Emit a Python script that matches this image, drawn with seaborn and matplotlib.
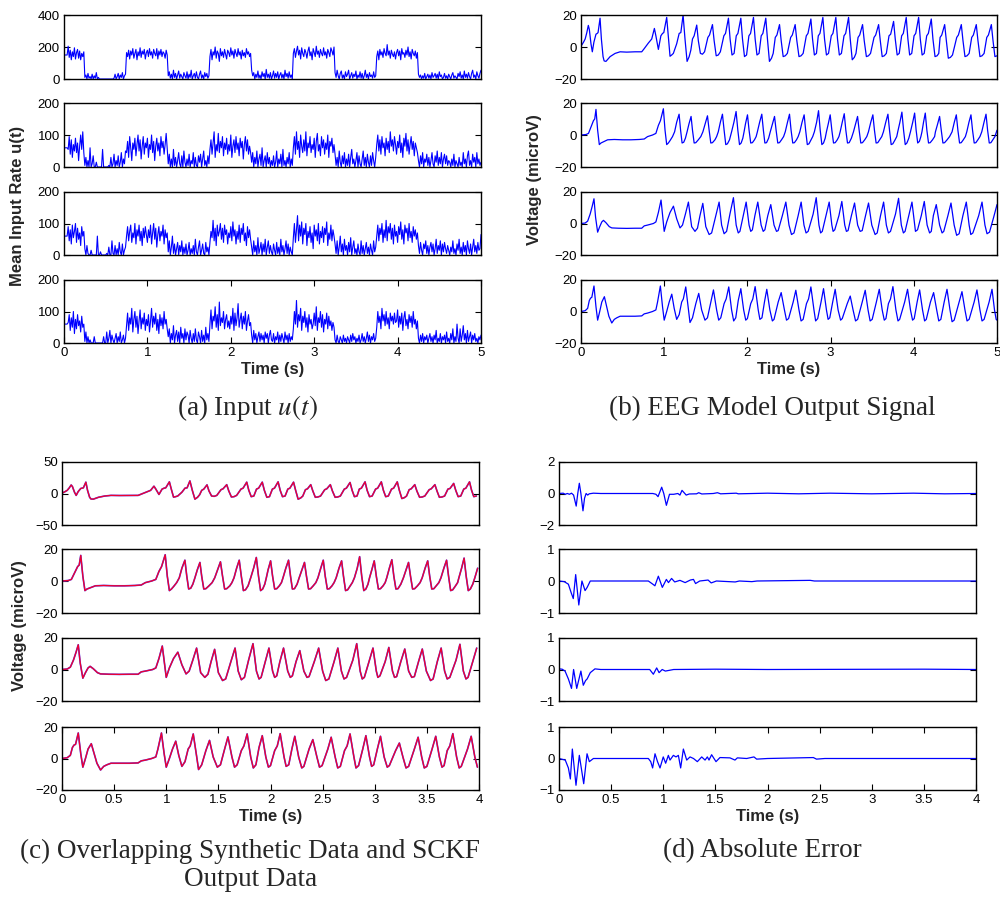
import numpy as np
import matplotlib
matplotlib.use("Agg")
import matplotlib.pyplot as plt
import seaborn as sns

# ---------------- data ----------------
# (a) mean input rate u(t) over 0..5 s, evenly sampled (12.5 ms)
input_rate_1 = [150, 150, 150, 150, 205, 135, 180, 120, 170, 140, 195, 125, 165, 185, 130, 175, 120, 160, 140, 170,
                10, 25, 0, 35, 5, 15, 0, 30, 0, 20, 5, 40, 0, 10, 0, 0, 0, 0, 0, 0,
                0, 0, 0, 0, 0, 0, 0, 0, 5, 30, 0, 15, 35, 0, 25, 10, 40, 0, 20, 30,
                165, 140, 180, 125, 175, 150, 190, 130, 160, 185, 120, 170, 145, 195, 135, 175, 155, 185, 125, 165,
                180, 140, 190, 150, 170, 130, 185, 160, 145, 190, 125, 175, 150, 185, 140, 170, 160, 130, 180, 150,
                20, 45, 5, 30, 0, 55, 10, 35, 0, 25, 50, 5, 30, 15, 0, 40, 20, 5, 45, 0,
                30, 10, 55, 0, 20, 35, 5, 45, 10, 0, 30, 50, 5, 25, 0, 40, 15, 35, 5, 20,
                140, 185, 120, 170, 150, 200, 130, 175, 160, 110, 190, 145, 170, 135, 185, 155, 125, 180, 165, 140,
                195, 150, 175, 130, 185, 160, 140, 190, 150, 170, 125, 180, 145, 165, 135, 190, 155, 170, 140, 160,
                55, 20, 40, 0, 30, 10, 50, 5, 25, 0, 45, 15, 35, 0, 60, 10, 30, 5, 40, 0,
                20, 50, 5, 35, 10, 45, 0, 25, 40, 5, 30, 0, 55, 15, 35, 5, 45, 10, 25, 0,
                160, 190, 135, 175, 205, 150, 180, 125, 195, 160, 140, 185, 165, 130, 175, 200, 145, 170, 120, 190,
                165, 140, 205, 155, 175, 135, 185, 160, 145, 195, 150, 170, 130, 185, 165, 140, 195, 175, 150, 200,
                40, 10, 55, 20, 0, 35, 50, 5, 25, 0, 45, 15, 30, 55, 0, 20, 40, 5, 30, 15,
                50, 0, 25, 10, 45, 5, 35, 0, 20, 55, 10, 30, 0, 40, 15, 25, 5, 45, 10, 20,
                140, 175, 120, 185, 150, 170, 135, 190, 160, 145, 215, 150, 175, 130, 180, 155, 140, 170, 125, 165,
                185, 145, 175, 120, 190, 155, 165, 135, 180, 150, 200, 140, 170, 125, 185, 160, 145, 175, 130, 165,
                30, 10, 25, 0, 20, 5, 35, 0, 15, 30, 5, 25, 0, 40, 10, 20, 35, 5, 30, 0,
                45, 15, 25, 0, 10, 35, 5, 20, 0, 30, 15, 0, 25, 40, 5, 20, 10, 0, 35, 15,
                45, 5, 25, 0, 50, 10, 30, 5, 40, 15, 0, 35, 55, 10, 25, 0, 45, 20, 5, 35, 55]

input_rate_2 = [60, 60, 60, 60, 55, 95, 40, 85, 30, 70, 50, 90, 45, 75, 20, 65, 100, 55, 110, 45,
                5, 30, 0, 20, 0, 60, 0, 10, 35, 0, 0, 15, 0, 0, 0, 0, 0, 55, 0, 0,
                0, 0, 0, 5, 0, 30, 0, 10, 40, 0, 20, 5, 35, 0, 15, 45, 0, 25, 10, 50,
                45, 80, 30, 95, 60, 20, 75, 55, 90, 35, 70, 100, 50, 85, 25, 65, 95, 40, 75, 60,
                90, 30, 70, 55, 100, 45, 80, 20, 65, 90, 50, 75, 35, 95, 60, 80, 40, 70, 105, 55,
                10, 40, 0, 25, 0, 55, 5, 30, 0, 20, 45, 10, 0, 35, 0, 50, 15, 0, 25, 5,
                40, 0, 20, 10, 45, 0, 30, 5, 0, 35, 15, 40, 0, 25, 50, 5, 20, 0, 35, 10,
                55, 85, 40, 75, 110, 30, 70, 50, 105, 45, 80, 60, 95, 35, 75, 55, 90, 40, 70, 50,
                100, 30, 65, 85, 45, 95, 55, 75, 35, 90, 60, 80, 25, 70, 95, 50, 85, 40, 65, 45,
                15, 45, 0, 30, 10, 50, 0, 25, 40, 5, 60, 0, 20, 35, 0, 45, 10, 30, 0, 20,
                5, 35, 0, 15, 50, 0, 25, 10, 40, 0, 55, 5, 20, 0, 30, 10, 45, 0, 25, 5,
                60, 95, 40, 110, 55, 80, 30, 100, 65, 45, 85, 50, 110, 35, 75, 60, 95, 45, 70, 55,
                90, 30, 80, 105, 50, 70, 35, 95, 60, 85, 40, 75, 55, 100, 30, 80, 65, 90, 45, 70,
                40, 5, 30, 0, 50, 15, 0, 35, 10, 45, 0, 25, 5, 40, 0, 30, 55, 10, 25, 0,
                20, 45, 0, 35, 10, 0, 25, 50, 5, 30, 0, 40, 15, 0, 35, 5, 45, 20, 0, 30,
                70, 100, 50, 85, 40, 95, 60, 75, 35, 90, 55, 80, 45, 110, 65, 85, 50, 95, 70, 40,
                80, 60, 100, 45, 75, 30, 90, 65, 105, 50, 85, 40, 70, 95, 55, 80, 35, 75, 60, 45,
                20, 0, 35, 10, 45, 0, 25, 15, 40, 5, 30, 0, 20, 45, 10, 0, 35, 15, 50, 5,
                30, 10, 45, 0, 25, 40, 10, 35, 5, 20, 15, 0, 25, 5, 40, 0, 20, 10, 0, 30,
                5, 15, 0, 45, 10, 25, 0, 35, 50, 5, 20, 0, 40, 15, 30, 0, 45, 10, 25, 5, 15]

input_rate_3 = [60, 60, 60, 60, 90, 45, 80, 35, 95, 55, 75, 100, 40, 85, 50, 70, 30, 90, 60, 75,
                20, 0, 30, 5, 0, 0, 15, 0, 0, 0, 0, 0, 60, 0, 0, 10, 0, 0, 0, 0,
                0, 5, 0, 25, 0, 0, 45, 5, 0, 30, 0, 20, 0, 40, 10, 0, 35, 0, 15, 25,
                60, 90, 45, 75, 95, 40, 70, 55, 100, 35, 80, 60, 95, 45, 75, 30, 85, 55, 90, 65,
                40, 80, 55, 95, 35, 70, 100, 50, 85, 25, 65, 90, 45, 75, 60, 95, 35, 80, 55, 70,
                10, 45, 0, 25, 60, 5, 35, 0, 20, 40, 0, 30, 10, 45, 0, 25, 5, 35, 0, 15,
                40, 0, 20, 5, 30, 0, 50, 10, 0, 25, 45, 0, 15, 35, 5, 0, 40, 10, 25, 0,
                40, 75, 55, 110, 45, 85, 30, 95, 60, 75, 100, 50, 85, 40, 95, 65, 80, 35, 70, 55,
                90, 45, 105, 60, 80, 35, 75, 50, 95, 40, 85, 65, 100, 45, 70, 30, 90, 55, 80, 50,
                25, 0, 45, 10, 30, 0, 55, 5, 20, 40, 0, 35, 10, 50, 0, 25, 45, 5, 30, 10,
                0, 35, 15, 0, 40, 5, 25, 0, 50, 10, 30, 0, 20, 45, 5, 35, 0, 25, 10, 0,
                55, 100, 40, 80, 125, 45, 95, 60, 105, 35, 85, 65, 100, 30, 75, 55, 90, 40, 70, 20,
                95, 60, 80, 45, 100, 35, 75, 55, 90, 40, 85, 65, 105, 30, 70, 50, 95, 45, 80, 60,
                35, 5, 45, 0, 25, 60, 10, 35, 0, 50, 15, 30, 0, 40, 10, 55, 0, 25, 45, 5,
                20, 0, 35, 10, 0, 45, 5, 30, 0, 20, 40, 5, 25, 0, 35, 15, 0, 45, 10, 25,
                60, 95, 45, 85, 65, 100, 40, 80, 55, 110, 45, 90, 70, 100, 50, 85, 35, 95, 60, 75,
                40, 90, 65, 105, 50, 80, 35, 95, 70, 85, 45, 100, 55, 75, 40, 90, 60, 80, 50, 70,
                30, 5, 40, 15, 0, 35, 20, 45, 5, 30, 0, 25, 40, 10, 35, 0, 20, 50, 5, 30,
                15, 45, 0, 35, 10, 40, 20, 5, 30, 15, 0, 25, 10, 45, 5, 20, 0, 35, 15, 50,
                5, 25, 0, 40, 10, 30, 0, 45, 20, 5, 35, 0, 25, 50, 10, 30, 5, 40, 15, 20, 65]

input_rate_4 = [60, 60, 60, 60, 65, 90, 40, 80, 50, 100, 30, 75, 45, 90, 55, 70, 35, 85, 50, 60,
                5, 35, 0, 20, 0, 10, 0, 0, 0, 20, 0, 0, 0, 0, 0, 0, 0, 0, 20, 0,
                0, 35, 0, 15, 40, 0, 25, 10, 0, 15, 30, 0, 20, 5, 35, 0, 10, 25, 0, 15,
                55, 95, 40, 80, 60, 110, 35, 75, 100, 50, 85, 30, 70, 105, 45, 80, 60, 95, 40, 75,
                55, 90, 35, 70, 110, 50, 85, 60, 95, 40, 75, 30, 90, 55, 80, 45, 100, 60, 75, 45,
                20, 45, 0, 30, 10, 55, 0, 25, 40, 5, 35, 0, 50, 15, 30, 0, 45, 10, 35, 25,
                0, 40, 15, 0, 30, 5, 45, 10, 0, 35, 20, 0, 40, 5, 25, 0, 50, 10, 30, 5,
                60, 105, 45, 85, 70, 115, 50, 90, 40, 130, 55, 80, 65, 100, 45, 75, 90, 50, 70, 45,
                85, 60, 110, 40, 95, 55, 80, 125, 50, 75, 95, 45, 85, 60, 100, 40, 70, 90, 55, 65,
                25, 0, 40, 10, 30, 0, 20, 35, 5, 30, 10, 25, 0, 35, 15, 30, 0, 25, 40, 10,
                5, 30, 0, 20, 10, 35, 0, 25, 5, 30, 15, 0, 35, 10, 25, 0, 30, 5, 20, 10,
                45, 100, 60, 135, 50, 90, 70, 110, 40, 85, 65, 100, 50, 80, 35, 90, 60, 75, 45, 60,
                95, 55, 115, 40, 80, 65, 100, 50, 90, 35, 75, 60, 95, 45, 85, 55, 70, 40, 65, 50,
                10, 0, 25, 5, 0, 20, 10, 0, 25, 5, 15, 0, 20, 10, 0, 25, 5, 30, 10, 20,
                0, 15, 5, 25, 0, 10, 30, 5, 20, 0, 15, 35, 5, 25, 0, 20, 10, 30, 5, 15,
                50, 100, 65, 85, 45, 110, 70, 90, 55, 100, 60, 80, 45, 95, 70, 85, 60, 95, 65, 70,
                105, 50, 85, 60, 95, 40, 80, 100, 55, 75, 45, 90, 65, 85, 50, 100, 60, 75, 45, 70,
                15, 0, 25, 5, 30, 0, 20, 10, 25, 0, 15, 30, 5, 20, 0, 25, 10, 40, 0, 15,
                5, 30, 0, 20, 10, 25, 0, 35, 5, 15, 0, 30, 10, 45, 0, 20, 5, 60, 15, 0,
                45, 5, 25, 55, 10, 30, 0, 40, 5, 20, 35, 0, 25, 10, 30, 5, 15, 0, 20, 10, 25]

# (b)/(c) EEG model output, [time s, voltage microV] vertices
eeg_1 = [[0.00, 0.5], [0.03, 3], [0.05, 5], [0.07, 9], [0.088, 13.5], [0.10, 11], [0.12, 2], [0.136, -3],
         [0.155, 3], [0.18, 8], [0.195, 8.5], [0.205, 9], [0.229, 18], [0.245, 5], [0.265, -6], [0.278, -8.7],
         [0.30, -9], [0.35, -6], [0.41, -4], [0.47, -3], [0.55, -3.2], [0.65, -3], [0.73, -3], [0.76, -1],
         [0.81, 2.5], [0.85, 5], [0.882, 11.6], [0.90, 7], [0.93, -1.5], [0.96, 7], [0.98, 8.5], [0.995, 9],
         [1.03, 18.5], [1.05, 6], [1.07, -5.8], [1.09, -5], [1.11, -4], [1.15, 2], [1.18, 8.5], [1.20, 9],
         [1.227, 20], [1.25, 5], [1.275, -9], [1.30, -6], [1.32, -2], [1.34, 5], [1.36, 7], [1.391, 13.7],
         [1.41, 4], [1.435, -4], [1.46, -4.5], [1.485, -3],
         [1.525, 6], [1.545, 7.5], [1.58, 14], [1.60, 4], [1.625, -5.5], [1.65, -5], [1.675, -3],
         [1.717, 7], [1.737, 8.5], [1.772, 18], [1.792, 5], [1.815, -5], [1.84, -4],
         [1.866, 7], [1.886, 8.5], [1.921, 18], [1.941, 5], [1.965, -6], [1.99, -5],
         [2.018, 7], [2.038, 8.5], [2.073, 18.5], [2.093, 5], [2.115, -5], [2.14, -4],
         [2.166, 7], [2.186, 8.5], [2.221, 18], [2.241, 5], [2.265, -9], [2.29, -7], [2.31, -4],
         [2.335, 6], [2.355, 7.5], [2.386, 14], [2.406, 4], [2.43, -6], [2.455, -5.5], [2.48, -4],
         [2.52, 6], [2.54, 7.5], [2.574, 14], [2.594, 4], [2.62, -6], [2.645, -5.5], [2.67, -4],
         [2.708, 7], [2.728, 8.5], [2.763, 17.5], [2.783, 5], [2.805, -5], [2.83, -4],
         [2.852, 7], [2.872, 8.5], [2.907, 18.5], [2.927, 5], [2.95, -5], [2.975, -4],
         [3.008, 7], [3.028, 8.5], [3.063, 18.5], [3.083, 5], [3.105, -5], [3.13, -4],
         [3.161, 7], [3.181, 8.5], [3.216, 18.5], [3.236, 5], [3.26, -8], [3.285, -6.5], [3.305, -4],
         [3.33, 6], [3.35, 7.5], [3.384, 14], [3.404, 4], [3.43, -6], [3.455, -5.5], [3.48, -4],
         [3.522, 6], [3.542, 7.5], [3.577, 14], [3.597, 4], [3.62, -6], [3.645, -5.5], [3.67, -4],
         [3.702, 7], [3.722, 8], [3.757, 16], [3.777, 5], [3.80, -5], [3.825, -4],
         [3.854, 7], [3.874, 8.5], [3.909, 18.5], [3.929, 5], [3.95, -5], [3.975, -4],
         [4.003, 7], [4.023, 8.5], [4.058, 18.5], [4.078, 5], [4.10, -5], [4.125, -4],
         [4.155, 7], [4.175, 8.5], [4.21, 17.5], [4.23, 5], [4.255, -6], [4.28, -5.5], [4.30, -4],
         [4.316, 6], [4.336, 7.5], [4.371, 14], [4.391, 4], [4.415, -7], [4.44, -6.5], [4.465, -5],
         [4.516, 6], [4.536, 7.5], [4.571, 14], [4.591, 4], [4.615, -6], [4.64, -5.5], [4.665, -4],
         [4.696, 6], [4.716, 7.5], [4.751, 14], [4.771, 4], [4.795, -6], [4.82, -5.5], [4.845, -4],
         [4.877, 6], [4.897, 7.5], [4.932, 14], [4.952, 4], [4.975, -6], [5.00, -5.5]]

eeg_2 = [[0.00, 0.0], [0.06, 0.3], [0.09, 1.0], [0.12, 5], [0.15, 9], [0.165, 10], [0.18, 16], [0.20, 3],
         [0.22, -6], [0.24, -5], [0.26, -4.5], [0.32, -3], [0.40, -2.8], [0.50, -3], [0.60, -3], [0.70, -2.8],
         [0.76, -2.5], [0.80, -1], [0.86, 0], [0.90, 1], [0.93, 6], [0.955, 9], [0.99, 16.4], [1.01, 3],
         [1.03, -6], [1.05, -5], [1.07, -3.5], [1.10, -1],
         [1.125, 2], [1.15, 8], [1.179, 13], [1.197, 3], [1.215, -5], [1.235, -4.5], [1.255, -2],
         [1.275, 2], [1.298, 7], [1.323, 11.6], [1.34, 3], [1.36, -5], [1.38, -4.8], [1.41, -3], [1.44, -1],
         [1.465, 2], [1.492, 7], [1.52, 12], [1.54, 3], [1.56, -5], [1.58, -4.8], [1.61, -3], [1.63, -1],
         [1.65, 2], [1.675, 8], [1.70, 13], [1.72, 3], [1.74, -6], [1.76, -5.5], [1.785, -3],
         [1.81, 2], [1.838, 8], [1.864, 14.7], [1.885, 3], [1.905, -6], [1.925, -5], [1.945, -2],
         [1.96, 2], [1.977, 7], [2.001, 12.6], [2.02, 3], [2.04, -5], [2.06, -4.8], [2.085, -3], [2.105, -1],
         [2.12, 2], [2.147, 8], [2.173, 13], [2.192, 3], [2.21, -5], [2.23, -4.8], [2.255, -2],
         [2.275, 2], [2.302, 7], [2.326, 11.6], [2.345, 3], [2.365, -5], [2.385, -4.8], [2.41, -3], [2.435, -1],
         [2.455, 2], [2.482, 8], [2.506, 13], [2.525, 3], [2.545, -5], [2.565, -4.8], [2.59, -3], [2.61, -1],
         [2.63, 2], [2.657, 8], [2.682, 12.6], [2.70, 3], [2.72, -6], [2.74, -5.5], [2.765, -3], [2.785, -1],
         [2.805, 2], [2.832, 8], [2.855, 15.2], [2.875, 3], [2.895, -6], [2.915, -5], [2.935, -2],
         [2.95, 2], [2.972, 7], [2.995, 12.6], [3.015, 3], [3.035, -5], [3.055, -4.8], [3.08, -3], [3.10, -1],
         [3.115, 2], [3.14, 8], [3.164, 13.3], [3.183, 3], [3.203, -5], [3.223, -4.8], [3.25, -2],
         [3.275, 2], [3.30, 7], [3.324, 11.6], [3.343, 3], [3.363, -5], [3.383, -4.8], [3.41, -3], [3.435, -1],
         [3.455, 2], [3.483, 8], [3.508, 12.6], [3.527, 3], [3.547, -5], [3.567, -4.8], [3.59, -3], [3.615, -1],
         [3.635, 2], [3.663, 8], [3.689, 13], [3.708, 3], [3.728, -6], [3.748, -5.5], [3.775, -3], [3.795, -1],
         [3.807, 2], [3.833, 8], [3.857, 14.3], [3.877, 3], [3.897, -6], [3.917, -5], [3.94, -2],
         [3.96, 2], [3.987, 8], [4.01, 13.7], [4.028, 3], [4.047, -5], [4.067, -4], [4.085, -1],
         [4.098, 2], [4.117, 8], [4.138, 13.7], [4.157, 3], [4.177, -5], [4.197, -4.8], [4.225, -3], [4.25, -1],
         [4.26, 2], [4.287, 7], [4.31, 11.6], [4.33, 3], [4.35, -5], [4.37, -4.8], [4.40, -3], [4.43, -1],
         [4.46, 2], [4.487, 8], [4.511, 12.6], [4.53, 3], [4.55, -5], [4.57, -4.8], [4.595, -3], [4.62, -1],
         [4.637, 2], [4.663, 8], [4.687, 12.6], [4.706, 3], [4.726, -5], [4.746, -4.8], [4.77, -3], [4.795, -1],
         [4.817, 2], [4.844, 8], [4.868, 13], [4.887, 3], [4.907, -5], [4.927, -4.8], [4.95, -3], [4.975, -1],
         [5.00, 3]]

eeg_3 = [[0.00, 0.0], [0.05, 0.3], [0.08, 1.5], [0.11, 6], [0.135, 11], [0.156, 15.7], [0.175, 4], [0.20, -5.5],
         [0.225, -2], [0.25, 1], [0.27, 2], [0.30, 0.5], [0.34, -2], [0.37, -2.8], [0.45, -3], [0.55, -3.1],
         [0.65, -3], [0.73, -3], [0.76, -1.5], [0.80, -1], [0.87, 0], [0.90, 1], [0.93, 7], [0.962, 14.9],
         [1.00, -5], [1.03, 1], [1.07, 7], [1.111, 11], [1.15, 3], [1.19, -2.8], [1.22, -1], [1.255, 6],
         [1.291, 13.6], [1.33, -2], [1.37, -5], [1.40, -3], [1.43, 5], [1.464, 12.8], [1.50, -2], [1.54, -7],
         [1.57, -6], [1.62, 5], [1.66, 13.6], [1.69, -1], [1.72, -6.5], [1.75, -5], [1.79, 6], [1.832, 16.4],
         [1.865, -1], [1.89, -6], [1.91, -5], [1.95, 5], [1.985, 13.6], [2.02, -1], [2.04, -5], [2.06, -4],
         [2.09, 5], [2.125, 13.6], [2.165, -1], [2.19, -5], [2.21, -4], [2.245, 5], [2.281, 12], [2.32, -1],
         [2.35, -5], [2.37, -4.5], [2.42, 5], [2.462, 13.6], [2.50, -1], [2.53, -7], [2.56, -6], [2.61, 5],
         [2.646, 13.6], [2.68, -1], [2.705, -6], [2.73, -5], [2.79, 6], [2.827, 16.4], [2.86, -1], [2.88, -6],
         [2.90, -5], [2.945, 5], [2.983, 13.6], [3.015, -1], [3.03, -5], [3.05, -4], [3.10, 5], [3.135, 14],
         [3.17, -1], [3.19, -5], [3.21, -4.5], [3.25, 5], [3.288, 13], [3.325, -1], [3.355, -5], [3.38, -4.5],
         [3.42, 5], [3.456, 13], [3.495, -1], [3.535, -7], [3.56, -6], [3.60, 5], [3.637, 13.6], [3.67, -1],
         [3.695, -6], [3.72, -5], [3.78, 6], [3.817, 16], [3.85, -1], [3.875, -6], [3.895, -5], [3.94, 5],
         [3.978, 13.6], [4.01, -1], [4.02, -5], [4.045, -4], [4.09, 5], [4.126, 14], [4.16, -1], [4.19, -6],
         [4.21, -5], [4.235, 5], [4.27, 12], [4.31, -1], [4.34, -6], [4.36, -5], [4.41, 5], [4.447, 13],
         [4.485, -1], [4.515, -7.5], [4.545, -6.5], [4.59, 5], [4.631, 13.6], [4.665, -1], [4.685, -7],
         [4.71, -6], [4.78, 5], [4.82, 13.6], [4.855, -1], [4.88, -6.5], [4.91, -5.5], [4.96, 4], [5.00, 12]]

eeg_4 = [[0.00, 0.0], [0.05, 0.5], [0.08, 2], [0.10, 7], [0.115, 8.5], [0.13, 9], [0.156, 16.2], [0.18, 3],
         [0.20, -5.5], [0.225, 0], [0.25, 6], [0.281, 9.4], [0.30, 5], [0.335, -3], [0.37, -7.3], [0.40, -5],
         [0.43, -4], [0.47, -3], [0.55, -3], [0.65, -3], [0.73, -2.8], [0.76, -1.5], [0.80, -1], [0.86, 0],
         [0.90, 1], [0.92, 6], [0.954, 16.2], [0.98, 3], [1.00, -5.5], [1.03, 0], [1.06, 6], [1.091, 11],
         [1.12, 2], [1.15, -5], [1.18, -2], [1.21, 6], [1.23, 8], [1.259, 15.6], [1.29, 2], [1.31, -7],
         [1.34, -4], [1.38, 5], [1.415, 11.5], [1.45, 1], [1.49, -5.5], [1.52, -4], [1.56, 6], [1.592, 13.7],
         [1.63, 1], [1.655, -5.5], [1.68, -4], [1.72, 5], [1.745, 8], [1.776, 15.6], [1.81, 1], [1.835, -6],
         [1.86, -4], [1.89, 7], [1.921, 14.5], [1.955, 1], [1.98, -5.5], [2.00, -4.5], [2.04, 5], [2.065, 8],
         [2.093, 15.8], [2.13, 1], [2.15, -5], [2.175, -4], [2.205, 6], [2.233, 14.1], [2.27, 1], [2.30, -6],
         [2.32, -5], [2.37, 6], [2.406, 12], [2.445, 1], [2.47, -5.5], [2.495, -4.5], [2.55, 6], [2.582, 13.5],
         [2.62, 1], [2.645, -6], [2.67, -5], [2.71, 5], [2.735, 8], [2.763, 15.6], [2.80, 1], [2.82, -6],
         [2.845, -4.5], [2.885, 6], [2.915, 14.5], [2.95, 1], [2.97, -5], [2.99, -4], [3.025, 6], [3.055, 14.1],
         [3.09, 1], [3.12, -5.5], [3.14, -4.5], [3.20, 5], [3.236, 9.8], [3.27, 1], [3.30, -6], [3.325, -5],
         [3.38, 6], [3.416, 13.5], [3.45, 1], [3.475, -6], [3.50, -5], [3.55, 6], [3.585, 14.1], [3.62, 1],
         [3.645, -5.5], [3.665, -4.5], [3.695, 5], [3.72, 8], [3.749, 15.8], [3.785, 1], [3.81, -6], [3.83, -5],
         [3.89, 6], [3.925, 14.1], [3.96, 1], [3.985, -5.5], [4.005, -4.5], [4.04, 6], [4.07, 13.7], [4.105, 1],
         [4.13, -6], [4.15, -5], [4.20, 6], [4.238, 12], [4.275, 1], [4.30, -6], [4.325, -5], [4.365, 6],
         [4.399, 14.1], [4.435, 1], [4.46, -6.5], [4.485, -5.5], [4.545, 6], [4.579, 12.6], [4.615, 1],
         [4.64, -6], [4.665, -5], [4.725, 6], [4.759, 13.7], [4.795, 1], [4.82, -6], [4.845, -5], [4.905, 6],
         [4.94, 14.1], [4.97, 1], [4.99, -5], [5.00, -5.5]]

# (d) absolute error between synthetic data and SCKF estimate, [time s, error]
error_1 = [[0, 0], [0.04, 0.02], [0.06, -0.05], [0.08, 0], [0.10, -0.05], [0.12, 0.02], [0.14, -0.1],
           [0.165, -0.8], [0.18, 0], [0.195, 0.65], [0.21, 0], [0.23, -1.1], [0.245, -0.3], [0.26, 0],
           [0.275, -0.1], [0.29, -0.02], [0.33, 0.02], [0.40, 0], [0.90, 0], [0.93, -0.05], [0.95, -0.2],
           [0.985, 0.4], [1.005, 0], [1.03, -0.75], [1.06, -0.05], [1.10, -0.05], [1.14, 0], [1.16, -0.1],
           [1.18, 0.2], [1.20, 0.05], [1.22, -0.1], [1.25, -0.03], [1.32, -0.02], [1.34, 0.05], [1.37, -0.03],
           [1.48, 0], [1.52, 0.05], [1.55, -0.02], [1.70, 0.02], [1.72, -0.02], [2.00, 0.02], [2.30, -0.02],
           [2.60, 0.02], [3.00, -0.02], [3.40, 0.02], [3.70, -0.02], [4.00, 0]]

error_2 = [[0, 0], [0.05, -0.02], [0.09, -0.1], [0.115, -0.35], [0.137, -0.55], [0.16, 0.2], [0.19, -0.75],
           [0.22, 0.0], [0.25, -0.3], [0.27, -0.2], [0.30, 0], [0.35, 0], [0.857, 0], [0.90, -0.1],
           [0.92, -0.15], [0.953, 0.15], [0.991, -0.2], [1.03, 0.05], [1.05, -0.05], [1.08, 0.08], [1.11, -0.03],
           [1.16, 0.02], [1.21, -0.05], [1.26, 0.03], [1.29, 0.05], [1.31, -0.08], [1.35, 0], [1.43, 0.03],
           [1.46, -0.06], [1.51, 0], [1.69, -0.03], [1.73, 0], [1.85, -0.02], [1.90, 0], [2.41, 0.02],
           [2.45, 0], [4.00, 0]]

error_3 = [[0, 0.02], [0.03, 0.01], [0.058, -0.05], [0.09, -0.3], [0.12, -0.6], [0.14, 0.0], [0.17, -0.6],
           [0.21, -0.05], [0.233, -0.5], [0.255, -0.35], [0.27, -0.3], [0.30, -0.1], [0.345, 0.02], [0.40, 0],
           [0.87, 0], [0.905, -0.15], [0.937, 0.05], [0.96, -0.1], [0.99, 0.0], [1.02, -0.05], [1.10, 0.0],
           [1.50, 0.01], [2.00, 0], [3.50, 0.01], [4.00, 0]]

error_4 = [[0, 0], [0.06, -0.05], [0.09, -0.3], [0.109, -0.65], [0.128, 0.3], [0.163, -0.85], [0.195, 0.1],
           [0.237, -0.8], [0.269, 0.15], [0.291, -0.1], [0.33, 0], [0.857, 0], [0.88, -0.1], [0.898, -0.3],
           [0.921, 0.15], [0.945, -0.1], [0.969, -0.3], [1.0, 0.05], [1.023, -0.15], [1.049, 0.1],
           [1.065, -0.05], [1.097, 0.1], [1.122, 0.05], [1.145, 0.1], [1.167, -0.3], [1.193, 0.3],
           [1.225, -0.05], [1.257, 0.05], [1.29, 0], [1.327, -0.1], [1.369, 0.05], [1.401, -0.05],
           [1.423, 0.05], [1.439, -0.05], [1.464, 0.12], [1.506, -0.1], [1.544, 0.03], [1.64, 0.02],
           [1.688, -0.05], [1.711, 0.02], [1.80, 0], [1.87, 0.05], [1.896, -0.02], [2.00, 0], [2.44, 0.03],
           [2.47, -0.02], [2.55, 0], [4.00, 0]]

input_series = [input_rate_1, input_rate_2, input_rate_3, input_rate_4]
eeg_series = [eeg_1, eeg_2, eeg_3, eeg_4]
error_series = [error_1, error_2, error_3, error_4]

ticks_5s = [0, 1, 2, 3, 4, 5]
ticks_4s = [0, 0.5, 1, 1.5, 2, 2.5, 3, 3.5, 4]
ticks_4s_labels = ["0", "0.5", "1", "1.5", "2", "2.5", "3", "3.5", "4"]
yticks_input = [[0, 200, 400], [0, 100, 200], [0, 100, 200], [0, 100, 200]]
yticks_eeg = [[-20, 0, 20]] * 4
yticks_overlap = [[-50, 0, 50], [-20, 0, 20], [-20, 0, 20], [-20, 0, 20]]
yticks_error = [[-2, 0, 2], [-1, 0, 1], [-1, 0, 1], [-1, 0, 1]]

captions = {"a": r"(a) Input $u(t)$", "b": "(b) EEG Model Output Signal",
            "c1": "(c) Overlapping Synthetic Data and SCKF", "c2": "Output Data",
            "d": "(d) Absolute Error"}

# ---------------- styling ----------------
sns.set_theme(style="white")
plt.rcParams["font.family"] = ["Liberation Sans", "DejaVu Sans"]
plt.rcParams["mathtext.fontset"] = "stix"
plt.rcParams["axes.unicode_minus"] = True

W, H = 1000, 902
fig = plt.figure(figsize=(W / 100, H / 100), dpi=100)

rows_top = [(15, 79), (103, 167), (192, 255), (280, 343)]
rows_bottom = [(462, 525), (549, 613), (638, 701), (727, 790)]


def add_ax(left, right, top, bottom):
    return fig.add_axes([left / W, 1 - bottom / H, (right - left) / W, (bottom - top) / H])


def fmt(v):
    return f"{v:g}".replace("-", "\u2212")


def style(ax, xlim, ylim, yticks, xticks=None, xlabels=None):
    ax.set_xlim(*xlim)
    ax.set_ylim(*ylim)
    ax.set_yticks(yticks)
    ax.set_yticklabels([fmt(v) for v in yticks])
    ax.tick_params(axis="y", direction="in", left=True, right=True, length=4, width=0.8,
                   labelsize=9.5, pad=3, colors="black")
    if xticks is None:
        ax.set_xticks([])
    else:
        ax.set_xticks(xticks)
        ax.set_xticklabels(xlabels if xlabels is not None else [fmt(v) for v in xticks])
        ax.tick_params(axis="x", direction="in", top=True, bottom=True, length=4, width=0.8,
                       labelsize=9.5, pad=3, colors="black")
        ax.set_xlabel("Time (s)", fontsize=12, fontweight="bold", labelpad=2)
    for sp in ax.spines.values():
        sp.set_visible(True)
        sp.set_color("black")
        sp.set_linewidth(1.0)
    ax.set_facecolor("white")
    ax.grid(False)


def draw(ax, x, y, color, lw):
    sns.lineplot(x=np.asarray(x), y=np.asarray(y), ax=ax, color=color, linewidth=lw,
                 estimator=None, sort=False, errorbar=None, legend=False)
    ax.set_ylabel("")
    ax.set_xlabel("")


# (a) input rates
for i, (top, bot) in enumerate(rows_top):
    ax = add_ax(64, 481, top, bot)
    vals = input_series[i]
    t = np.linspace(0, 5, len(vals))
    draw(ax, t, vals, "#0000ff", 0.8)
    last = i == 3
    style(ax, (0, 5), (yticks_input[i][0], yticks_input[i][-1]), yticks_input[i],
          ticks_5s if last else None)

# (b) EEG model output
for i, (top, bot) in enumerate(rows_top):
    ax = add_ax(581, 997, top, bot)
    arr = np.array(eeg_series[i])
    draw(ax, arr[:, 0], arr[:, 1], "#0000ff", 0.9)
    last = i == 3
    style(ax, (0, 5), (-20, 20), yticks_eeg[i], ticks_5s if last else None)

# (c) synthetic data (blue) overlapped by SCKF output (red)
for i, (top, bot) in enumerate(rows_bottom):
    ax = add_ax(62, 479, top, bot)
    arr = np.array(eeg_series[i])
    arr = arr[arr[:, 0] <= 4.0]
    draw(ax, arr[:, 0], arr[:, 1], "#4040ff", 1.2)
    draw(ax, arr[:, 0], arr[:, 1], "#ee0030", 0.95)
    last = i == 3
    lim = yticks_overlap[i]
    style(ax, (0, 4), (lim[0], lim[-1]), lim, ticks_4s if last else None,
          ticks_4s_labels if last else None)

# (d) absolute error
for i, (top, bot) in enumerate(rows_bottom):
    ax = add_ax(559, 976, top, bot)
    arr = np.array(error_series[i])
    draw(ax, arr[:, 0], arr[:, 1], "#0000ff", 0.9)
    last = i == 3
    lim = yticks_error[i]
    style(ax, (0, 4), (lim[0], lim[-1]), lim, ticks_4s if last else None,
          ticks_4s_labels if last else None)

# shared y labels
fig.text(18 / W, 1 - 206 / H, "Mean Input Rate u(t)", rotation=90, ha="center", va="center",
         fontsize=12, fontweight="bold")
fig.text(535 / W, 1 - 180 / H, "Voltage (microV)", rotation=90, ha="center", va="center",
         fontsize=12, fontweight="bold")
fig.text(20 / W, 1 - 626 / H, "Voltage (microV)", rotation=90, ha="center", va="center",
         fontsize=12, fontweight="bold")

# sub-figure captions
serif = ["Liberation Serif", "DejaVu Serif"]
fig.text(247 / W, 1 - 408 / H, captions["a"], ha="center", va="center", fontsize=19.5, family=serif)
fig.text(772 / W, 1 - 408 / H, captions["b"], ha="center", va="center", fontsize=19.5, family=serif)
fig.text(250 / W, 1 - 851 / H, captions["c1"], ha="center", va="center", fontsize=19.5, family=serif)
fig.text(251 / W, 1 - 879 / H, captions["c2"], ha="center", va="center", fontsize=19.5, family=serif)
fig.text(762 / W, 1 - 851 / H, captions["d"], ha="center", va="center", fontsize=19.5, family=serif)

fig.savefig("out.png", dpi=100, facecolor="white")
